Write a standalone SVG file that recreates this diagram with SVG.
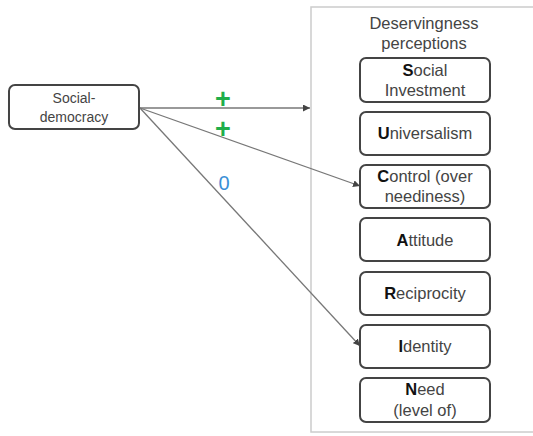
<svg xmlns="http://www.w3.org/2000/svg" width="533" height="436" viewBox="0 0 533 436">
  <style>
    .box { fill: #fff; stroke: #444; stroke-width: 2; }
    .txt { font-family: "Liberation Sans", Arial, sans-serif; font-size: 16.5px; fill: #444; text-anchor: middle; }
    .small { font-size: 14px; }
    .txt tspan.b { font-weight: bold; fill: #111; }
    .edge { stroke: #777; stroke-width: 1.3; fill: none; marker-end: url(#arr); }
    .sign { font-family: "Liberation Sans", Arial, sans-serif; text-anchor: middle; }
  </style>
  <defs>
    <marker id="arr" viewBox="0 0 10 10" refX="10" refY="5" markerWidth="7" markerHeight="7" markerUnits="userSpaceOnUse" orient="auto">
      <path d="M0,0 L10,5 L0,10 z" fill="#444"/>
    </marker>
  </defs>
  <rect width="533" height="436" fill="#fff"/>

  <!-- container -->
  <g id="container">
    <rect x="311" y="7" width="240" height="425" fill="none" stroke="#ccc" stroke-width="1.5"/>
    <text class="txt" x="424" y="29">Deservingness</text>
    <text class="txt" x="424" y="49">perceptions</text>
  </g>

  <!-- connectors -->
  <g id="connectors">
    <line class="edge" x1="140" y1="108" x2="310" y2="108"/>
    <line class="edge" x1="140" y1="108" x2="360" y2="186"/>
    <line class="edge" x1="140" y1="108" x2="360" y2="346"/>
    <text class="sign" x="223" y="108" fill="#1fae4b" font-size="27" font-weight="bold">+</text>
    <text class="sign" x="223" y="138" fill="#1fae4b" font-size="27" font-weight="bold">+</text>
    <text class="sign" x="224" y="190" fill="#3a8fd6" font-size="20">0</text>
  </g>

  <g id="social-democracy">
    <rect class="box" x="9" y="85" width="130" height="44" rx="6"/>
    <text class="txt small" x="74" y="103">Social-</text>
    <text class="txt small" x="74" y="122">democracy</text>
  </g>

  <g id="social-investment">
    <rect class="box" x="360" y="58" width="130" height="44" rx="6"/>
    <text class="txt" x="425" y="76"><tspan class="b">S</tspan>ocial</text>
    <text class="txt" x="425" y="96">Investment</text>
  </g>

  <g id="universalism">
    <rect class="box" x="360" y="112" width="130" height="43" rx="6"/>
    <text class="txt" x="425" y="139"><tspan class="b">U</tspan>niversalism</text>
  </g>

  <g id="control">
    <rect class="box" x="360" y="165" width="130" height="43" rx="6"/>
    <text class="txt" x="425" y="182"><tspan class="b">C</tspan>ontrol (over</text>
    <text class="txt" x="425" y="202">neediness)</text>
  </g>

  <g id="attitude">
    <rect class="box" x="360" y="218" width="130" height="43" rx="6"/>
    <text class="txt" x="425" y="246"><tspan class="b">A</tspan>ttitude</text>
  </g>

  <g id="reciprocity">
    <rect class="box" x="360" y="272" width="130" height="43" rx="6"/>
    <text class="txt" x="425" y="299"><tspan class="b">R</tspan>eciprocity</text>
  </g>

  <g id="identity">
    <rect class="box" x="360" y="325" width="130" height="43" rx="6"/>
    <text class="txt" x="425" y="352"><tspan class="b">I</tspan>dentity</text>
  </g>

  <g id="need">
    <rect class="box" x="360" y="378" width="130" height="44" rx="6"/>
    <text class="txt" x="425" y="395"><tspan class="b">N</tspan>eed</text>
    <text class="txt" x="425" y="416">(level of)</text>
  </g>
</svg>
